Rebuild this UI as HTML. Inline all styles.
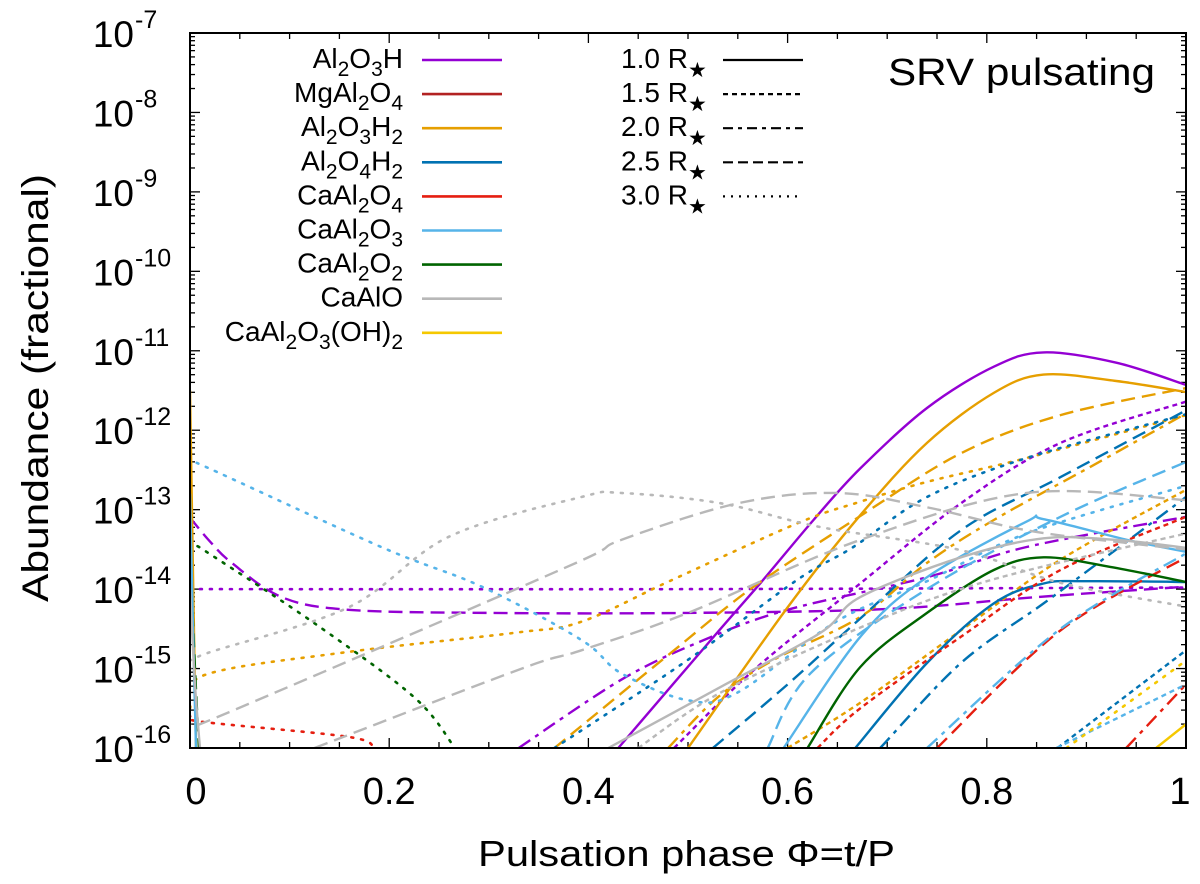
<!DOCTYPE html>
<html><head><meta charset="utf-8">
<style>
html,body{margin:0;padding:0;background:#fff;}
svg{display:block;font-family:"Liberation Sans",Arial,sans-serif;}
</style></head>
<body>
<svg id="chart" width="1200" height="884" viewBox="0 0 1200 884" xmlns="http://www.w3.org/2000/svg">
<defs><clipPath id="plotclip"><rect x="190" y="33" width="996" height="715"/></clipPath></defs>
<rect x="0" y="0" width="1200" height="884" fill="#fff"/>
<g id="ticks"></g>
<g id="series" clip-path="url(#plotclip)"></g>
<rect x="190" y="33" width="996" height="715" fill="none" stroke="#000" stroke-width="2"/>
<g id="ylabels"></g>
<g id="xlabels"></g>
<text x="0" y="0" font-size="37" text-anchor="middle" textLength="428" lengthAdjust="spacingAndGlyphs" transform="translate(48 388) rotate(-90)">Abundance (fractional)</text>
<text x="478" y="866" font-size="36" textLength="417" lengthAdjust="spacingAndGlyphs">Pulsation phase Φ=t/P</text>
<text x="888" y="85" font-size="38" textLength="267" lengthAdjust="spacingAndGlyphs">SRV pulsating</text>
<g id="legend"></g>
</svg>
<script>
const NS = "http://www.w3.org/2000/svg";
const X0 = 190, X1 = 1186, YTOP = 33, YBOT = 748;
const logMin = -16, logMax = -7;
const xTickLabels = ["0", "0.2", "0.4", "0.6", "0.8", "1"];
const xTickValues = [0, 0.2, 0.4, 0.6, 0.8, 1];
const yTickExps = [-7, -8, -9, -10, -11, -12, -13, -14, -15, -16];

function xs(p){ return X0 + p * (X1 - X0); }
function ys(l){ return YBOT - (l - logMin) / (logMax - logMin) * (YBOT - YTOP); }

// ---- data (phase, log10 abundance) ----
const al2o3h_r10_p = [0.43,0.523,0.573,0.626,0.673,0.74,0.807,0.857,0.93,1.0];
const al2o3h_r10_v = [-16,-14.64,-13.92,-13.13,-12.48,-11.72,-11.2,-11.02,-11.15,-11.43];
const al2o3h_r15_p = [0.486,0.566,0.666,0.774,0.874,1.0];
const al2o3h_r15_v = [-16,-15.02,-14.0,-12.92,-12.16,-11.64];
const al2o3h_r20_p = [0.33,0.433,0.516,0.6,0.74,0.84,1.0];
const al2o3h_r20_v = [-16,-15.14,-14.64,-14.26,-13.85,-13.47,-13.09];
const al2o3h_r25_p = [0,0.02,0.042,0.092,0.159,0.3,0.5,0.7,0.85,1.0];
const al2o3h_r25_v = [-13.1,-13.4,-13.67,-14.1,-14.26,-14.3,-14.3,-14.25,-14.1,-13.97];
const al2o3h_r30_p = [0,0.5,1.0];
const al2o3h_r30_v = [-14,-14,-13.98];

const al2o3h2_r10_p = [0.5,0.6,0.673,0.74,0.807,0.857,0.93,1.0];
const al2o3h2_r10_v = [-16,-14.23,-13.07,-12.16,-11.53,-11.3,-11.38,-11.52];
const al2o3h2_r15_p = [0.6,0.673,0.774,0.874,1.0];
const al2o3h2_r15_v = [-16,-15.43,-14.52,-13.63,-12.75];
const al2o3h2_r20_p = [0.48,0.53,0.586,0.673,0.74,0.807,0.907,1.0];
const al2o3h2_r20_v = [-16,-15.36,-14.89,-14.35,-13.67,-13.13,-12.44,-11.79];
const al2o3h2_r25_p = [0.366,0.483,0.566,0.673,0.774,0.874,1.0];
const al2o3h2_r25_v = [-16,-14.8,-13.97,-13.08,-12.29,-11.81,-11.47];
const al2o3h2_r30_p = [0,0.015,0.159,0.326,0.393,0.483,0.61,0.673,0.74,0.84,1.0];
const al2o3h2_r30_v = [-15.5,-15.08,-14.79,-14.55,-14.41,-13.89,-13.17,-12.9,-12.65,-12.35,-11.81];

const al2o4h2_r10_p = [0.668,0.74,0.807,0.857,0.9,1.0];
const al2o4h2_r10_v = [-16,-14.93,-14.18,-13.93,-13.9,-13.91];
const al2o4h2_r15_p = [0.871,1.0];
const al2o4h2_r15_v = [-16,-14.77];
const al2o4h2_r20_p = [0.693,0.774,0.857,0.93,1.0];
const al2o4h2_r20_v = [-16,-14.93,-14.18,-13.5,-12.84];
const al2o4h2_r25_p = [0.525,0.6,0.673,0.774,0.874,1.0];
const al2o4h2_r25_v = [-16,-15.2,-14.37,-13.26,-12.59,-11.75];
const al2o4h2_r30_p = [0.366,0.5,0.61,0.666,0.74,0.84,1.0];
const al2o4h2_r30_v = [-16,-14.89,-13.88,-13.47,-12.84,-12.35,-11.8];

const caal2o4_r15_p = [0.63,0.673,0.774,0.874,1.0];
const caal2o4_r15_v = [-16,-15.5,-14.6,-13.76,-13.09];
const caal2o4_r20_p = [0.94,1.0];
const caal2o4_r20_v = [-16,-15.2];
const caal2o4_r25_p = [0.75,0.874,1.0];
const caal2o4_r25_v = [-16,-14.52,-13.6];
const caal2o4_r30_p = [0,0.012,0.159,0.185];
const caal2o4_r30_v = [-15.6,-15.67,-15.86,-16];

const caal2o3_r10_p = [0.596,0.673,0.74,0.84,0.857,0.941,1.0];
const caal2o3_r10_v = [-16,-14.6,-13.85,-13.15,-13.12,-13.38,-13.53];
const caal2o3_r15_p = [0.87,1.0];
const caal2o3_r15_v = [-16,-15.2];
const caal2o3_r20_p = [0.74,0.874,1.0];
const caal2o3_r20_v = [-16,-14.5,-13.55];
const caal2o3_r25_p = [0.58,0.623,0.74,0.874,1.0];
const caal2o3_r25_v = [-16,-15.06,-14.0,-13.09,-12.4];
const caal2o3_r30_p = [0,0.012,0.192,0.293,0.393,0.433,0.5,0.55,0.65,0.74,0.84,1.0];
const caal2o3_r30_v = [-12.4,-12.44,-13.47,-13.97,-14.64,-15.06,-15.4,-15.3,-14.4,-13.9,-13.3,-12.7];

const caal2o2_r10_p = [0.62,0.673,0.74,0.807,0.857,0.924,1.0];
const caal2o2_r10_v = [-16,-14.98,-14.3,-13.76,-13.6,-13.72,-13.91];
const caal2o2_r30_p = [0,0.005,0.025,0.125,0.225,0.266];
const caal2o2_r30_v = [-13.5,-13.45,-13.6,-14.43,-15.36,-16];

const caalo_r10_p = [0.42,0.533,0.633,0.673,0.774,0.857,0.93,1.0];
const caalo_r10_v = [-16,-15.23,-14.55,-14.1,-13.6,-13.36,-13.38,-13.48];
const caalo_r15_p = [0.45,0.533,0.67,0.8,1.0];
const caalo_r15_v = [-16,-15.3,-14.5,-13.9,-13.3];
const caalo_r20_p = [0.125,0.333,0.393,0.5,0.673,0.84,1.0];
const caalo_r20_v = [-16,-15.0,-14.77,-14.3,-13.38,-12.79,-12.88];
const caalo_r25_p = [0,0.012,0.192,0.393,0.433,0.55,0.65,0.74,0.84,0.941,1.0];
const caalo_r25_v = [-15.7,-15.69,-14.73,-13.64,-13.38,-12.92,-12.79,-12.97,-13.26,-13.42,-13.5];
const caalo_r30_p = [0,0.012,0.159,0.26,0.393,0.433,0.533,0.633,0.774,0.874,1.0];
const caalo_r30_v = [-15,-14.83,-14.23,-13.34,-12.84,-12.79,-12.92,-13.22,-13.51,-13.92,-14.22];

const caoh_r10_p = [0.97,1.0];
const caoh_r10_v = [-16,-15.7];
const caoh_r15_p = [0.88,1.0];
const caoh_r15_v = [-16,-14.9];

// initial transients at phase 0
const spike_orange_p = [0,0.003,0.006];
const spike_orange_v = [-11.5,-13.8,-16];
const spike_green_p = [0,0.005,0.009];
const spike_green_v = [-13.5,-15,-16];
const spike_lblue_p = [0,0.003,0.006];
const spike_lblue_v = [-12.8,-14.5,-16];
const spike_grey_p = [0,0.005,0.01];
const spike_grey_v = [-14,-15.2,-16];

const C = {purple:"#9400d3", mg:"#b22222", orange:"#e69f00", blue:"#0072b2", red:"#e51e10", lblue:"#56b4e9", green:"#006400", grey:"#b8b8b8", yellow:"#f5c800"};
const DASH = {r10:"", r15:"5,4", r20:"14,6,4,6", r25:"14,7", r30:"2,8"};

const seriesList = [
  ["al2o3h-1.0", al2o3h_r10_p, al2o3h_r10_v, C.purple, "r10"],
  ["al2o3h-1.5", al2o3h_r15_p, al2o3h_r15_v, C.purple, "r15"],
  ["al2o3h-2.0", al2o3h_r20_p, al2o3h_r20_v, C.purple, "r20"],
  ["al2o3h-2.5", al2o3h_r25_p, al2o3h_r25_v, C.purple, "r25"],
  ["al2o3h-3.0", al2o3h_r30_p, al2o3h_r30_v, C.purple, "r30"],
  ["al2o3h2-1.0", al2o3h2_r10_p, al2o3h2_r10_v, C.orange, "r10"],
  ["al2o3h2-1.5", al2o3h2_r15_p, al2o3h2_r15_v, C.orange, "r15"],
  ["al2o3h2-2.0", al2o3h2_r20_p, al2o3h2_r20_v, C.orange, "r20"],
  ["al2o3h2-2.5", al2o3h2_r25_p, al2o3h2_r25_v, C.orange, "r25"],
  ["al2o3h2-3.0", al2o3h2_r30_p, al2o3h2_r30_v, C.orange, "r30"],
  ["al2o4h2-1.0", al2o4h2_r10_p, al2o4h2_r10_v, C.blue, "r10"],
  ["al2o4h2-1.5", al2o4h2_r15_p, al2o4h2_r15_v, C.blue, "r15"],
  ["al2o4h2-2.0", al2o4h2_r20_p, al2o4h2_r20_v, C.blue, "r20"],
  ["al2o4h2-2.5", al2o4h2_r25_p, al2o4h2_r25_v, C.blue, "r25"],
  ["al2o4h2-3.0", al2o4h2_r30_p, al2o4h2_r30_v, C.blue, "r30"],
  ["caal2o4-1.5", caal2o4_r15_p, caal2o4_r15_v, C.red, "r15"],
  ["caal2o4-2.0", caal2o4_r20_p, caal2o4_r20_v, C.red, "r20"],
  ["caal2o4-2.5", caal2o4_r25_p, caal2o4_r25_v, C.red, "r25"],
  ["caal2o4-3.0", caal2o4_r30_p, caal2o4_r30_v, C.red, "r30"],
  ["caal2o3-1.0", caal2o3_r10_p, caal2o3_r10_v, C.lblue, "r10"],
  ["caal2o3-1.5", caal2o3_r15_p, caal2o3_r15_v, C.lblue, "r15"],
  ["caal2o3-2.0", caal2o3_r20_p, caal2o3_r20_v, C.lblue, "r20"],
  ["caal2o3-2.5", caal2o3_r25_p, caal2o3_r25_v, C.lblue, "r25"],
  ["caal2o3-3.0", caal2o3_r30_p, caal2o3_r30_v, C.lblue, "r30"],
  ["caal2o2-1.0", caal2o2_r10_p, caal2o2_r10_v, C.green, "r10"],
  ["caal2o2-3.0", caal2o2_r30_p, caal2o2_r30_v, C.green, "r30"],
  ["caalo-1.0", caalo_r10_p, caalo_r10_v, C.grey, "r10"],
  ["caalo-1.5", caalo_r15_p, caalo_r15_v, C.grey, "r15"],
  ["caalo-2.0", caalo_r20_p, caalo_r20_v, C.grey, "r25"],
  ["caalo-2.5", caalo_r25_p, caalo_r25_v, C.grey, "r25"],
  ["caalo-3.0", caalo_r30_p, caalo_r30_v, C.grey, "r30"],
  ["caoh-1.0", caoh_r10_p, caoh_r10_v, C.yellow, "r10"],
  ["caoh-1.5", caoh_r15_p, caoh_r15_v, C.yellow, "r30"],
  ["spike-orange", spike_orange_p, spike_orange_v, C.orange, "r10"],
  ["spike-green", spike_green_p, spike_green_v, C.green, "r25"],
  ["spike-lblue", spike_lblue_p, spike_lblue_v, C.lblue, "r10"],
  ["spike-grey", spike_grey_p, spike_grey_v, C.grey, "r10"]
];

function smoothPath(pts){
  if (pts.length < 3) return "M" + pts.map(q => q[0].toFixed(1)+","+q[1].toFixed(1)).join(" L");
  let d = "M" + pts[0][0].toFixed(1) + "," + pts[0][1].toFixed(1);
  for (let i = 0; i < pts.length - 1; i++){
    const p0 = pts[i-1] || pts[i], p1 = pts[i], p2 = pts[i+1], p3 = pts[i+2] || p2;
    const c1x = p1[0] + (p2[0]-p0[0])/6, c1y = p1[1] + (p2[1]-p0[1])/6;
    const c2x = p2[0] - (p3[0]-p1[0])/6, c2y = p2[1] - (p3[1]-p1[1])/6;
    d += " C" + c1x.toFixed(1)+","+c1y.toFixed(1)+" "+c2x.toFixed(1)+","+c2y.toFixed(1)+" "+p2[0].toFixed(1)+","+p2[1].toFixed(1);
  }
  return d;
}

const gS = document.getElementById("series");
seriesList.forEach(s => {
  const pts = s[1].map((p,i) => [xs(p), ys(s[2][i])]);
  const path = document.createElementNS(NS, "path");
  path.setAttribute("d", smoothPath(pts));
  path.setAttribute("fill", "none");
  path.setAttribute("stroke", s[3]);
  path.setAttribute("stroke-width", s[4] === "r30" ? "2.6" : "2.4");
  if (DASH[s[4]]) path.setAttribute("stroke-dasharray", DASH[s[4]]);
  if (s[4] === "r30") path.setAttribute("stroke-linecap", "round");
  
  
  gS.appendChild(path);
});

// ticks
const gT = document.getElementById("ticks");
function tick(x1,y1,x2,y2){
  const l = document.createElementNS(NS, "line");
  l.setAttribute("x1", x1); l.setAttribute("y1", y1); l.setAttribute("x2", x2); l.setAttribute("y2", y2);
  l.setAttribute("stroke", "#000"); l.setAttribute("stroke-width", "1.3");
  
  
  gT.appendChild(l);
}
for (let e = -16; e <= -7; e++){
  const y = ys(e);
  tick(X0, y, X0+10, y); tick(X1, y, X1-10, y);
  if (e < -7) for (let m = 2; m <= 9; m++){
    const ym = ys(e + Math.log10(m));
    tick(X0, ym, X0+5, ym); tick(X1, ym, X1-5, ym);
  }
}
for (let k = 0; k <= 20; k++){
  const p = k * 0.05, x = xs(p);
  const major = (k % 4 === 0);
  const len = major ? 10 : 6;
  tick(x, YBOT, x, YBOT-len); tick(x, YTOP, x, YTOP+len);
}

// y labels
const gY = document.getElementById("ylabels");
yTickExps.forEach(e => {
  const t = document.createElementNS(NS, "text");
  t.setAttribute("x", 134); t.setAttribute("y", ys(e) + 14);
  t.setAttribute("font-size", "37"); t.setAttribute("text-anchor", "end");
  t.textContent = "10";
  
  
  gY.appendChild(t);
  const s = document.createElementNS(NS, "text");
  s.setAttribute("x", 135); s.setAttribute("y", ys(e) - 5);
  s.setAttribute("font-size", "25");
  s.textContent = String(e);
  
  
  gY.appendChild(s);
});

// x labels
const gX = document.getElementById("xlabels");
xTickValues.forEach((v,i) => {
  const t = document.createElementNS(NS, "text");
  let x = xs(v);
  if (i === 0) x += 6;
  if (i === xTickValues.length - 1) x -= 6;
  t.setAttribute("x", x); t.setAttribute("y", 804);
  t.setAttribute("font-size", "38"); t.setAttribute("text-anchor", "middle");
  t.textContent = xTickLabels[i];
  
  
  gX.appendChild(t);
});

// legend
const gL = document.getElementById("legend");
const speciesLabels = [
  [["Al"],["2","s"],["O"],["3","s"],["H"]],
  [["MgAl"],["2","s"],["O"],["4","s"]],
  [["Al"],["2","s"],["O"],["3","s"],["H"],["2","s"]],
  [["Al"],["2","s"],["O"],["4","s"],["H"],["2","s"]],
  [["CaAl"],["2","s"],["O"],["4","s"]],
  [["CaAl"],["2","s"],["O"],["3","s"]],
  [["CaAl"],["2","s"],["O"],["2","s"]],
  [["CaAlO"]],
  [["CaAl"],["2","s"],["O"],["3","s"],["(OH)"],["2","s"]]
];
const speciesColors = [C.purple, C.mg, C.orange, C.blue, C.red, C.lblue, C.green, C.grey, C.yellow];
const radiusLabels = ["1.0", "1.5", "2.0", "2.5", "3.0"];
const radiusStyles = ["r10", "r15", "r20", "r25", "r30"];
const rowY0 = 60, rowDY = 34.1;

speciesLabels.forEach((parts, i) => {
  const y = rowY0 + i*rowDY;
  const t = document.createElementNS(NS, "text");
  t.setAttribute("x", 403); t.setAttribute("y", y + 8);
  t.setAttribute("font-size", "28"); t.setAttribute("text-anchor", "end");
  
  
  let sub = false;
  parts.forEach(pt => {
    const ts = document.createElementNS(NS, "tspan");
    const isSub = pt[1] === "s";
    if (isSub && !sub) ts.setAttribute("dy", "8");
    if (!isSub && sub) ts.setAttribute("dy", "-8");
    if (isSub) ts.setAttribute("font-size", "21");
    ts.textContent = pt[0];
    t.appendChild(ts);
    sub = isSub;
  });
  gL.appendChild(t);
  const l = document.createElementNS(NS, "line");
  l.setAttribute("x1", 422); l.setAttribute("x2", 502);
  l.setAttribute("y1", y); l.setAttribute("y2", y);
  l.setAttribute("stroke", speciesColors[i]); l.setAttribute("stroke-width", "2.6");
  
  
  gL.appendChild(l);
});

radiusLabels.forEach((r, i) => {
  const y = rowY0 + i*rowDY;
  const t = document.createElementNS(NS, "text");
  t.setAttribute("x", 621); t.setAttribute("y", y + 8);
  t.setAttribute("font-size", "28");
  
  
  t.textContent = r + " R";
  const st = document.createElementNS(NS, "tspan");
  st.setAttribute("dy", "9"); st.setAttribute("font-size", "21");
  st.textContent = "★";
  t.appendChild(st);
  gL.appendChild(t);
  const l = document.createElementNS(NS, "line");
  l.setAttribute("x1", 723); l.setAttribute("x2", 803);
  l.setAttribute("y1", y); l.setAttribute("y2", y);
  l.setAttribute("stroke", "#000"); l.setAttribute("stroke-width", "2.2");
  const dsh = {r10:"", r15:"5,4", r20:"10,5,4,5", r25:"10,5", r30:"2,6"}[radiusStyles[i]];
  if (dsh) l.setAttribute("stroke-dasharray", dsh);
  
  
  gL.appendChild(l);
});
</script>
</body></html>
